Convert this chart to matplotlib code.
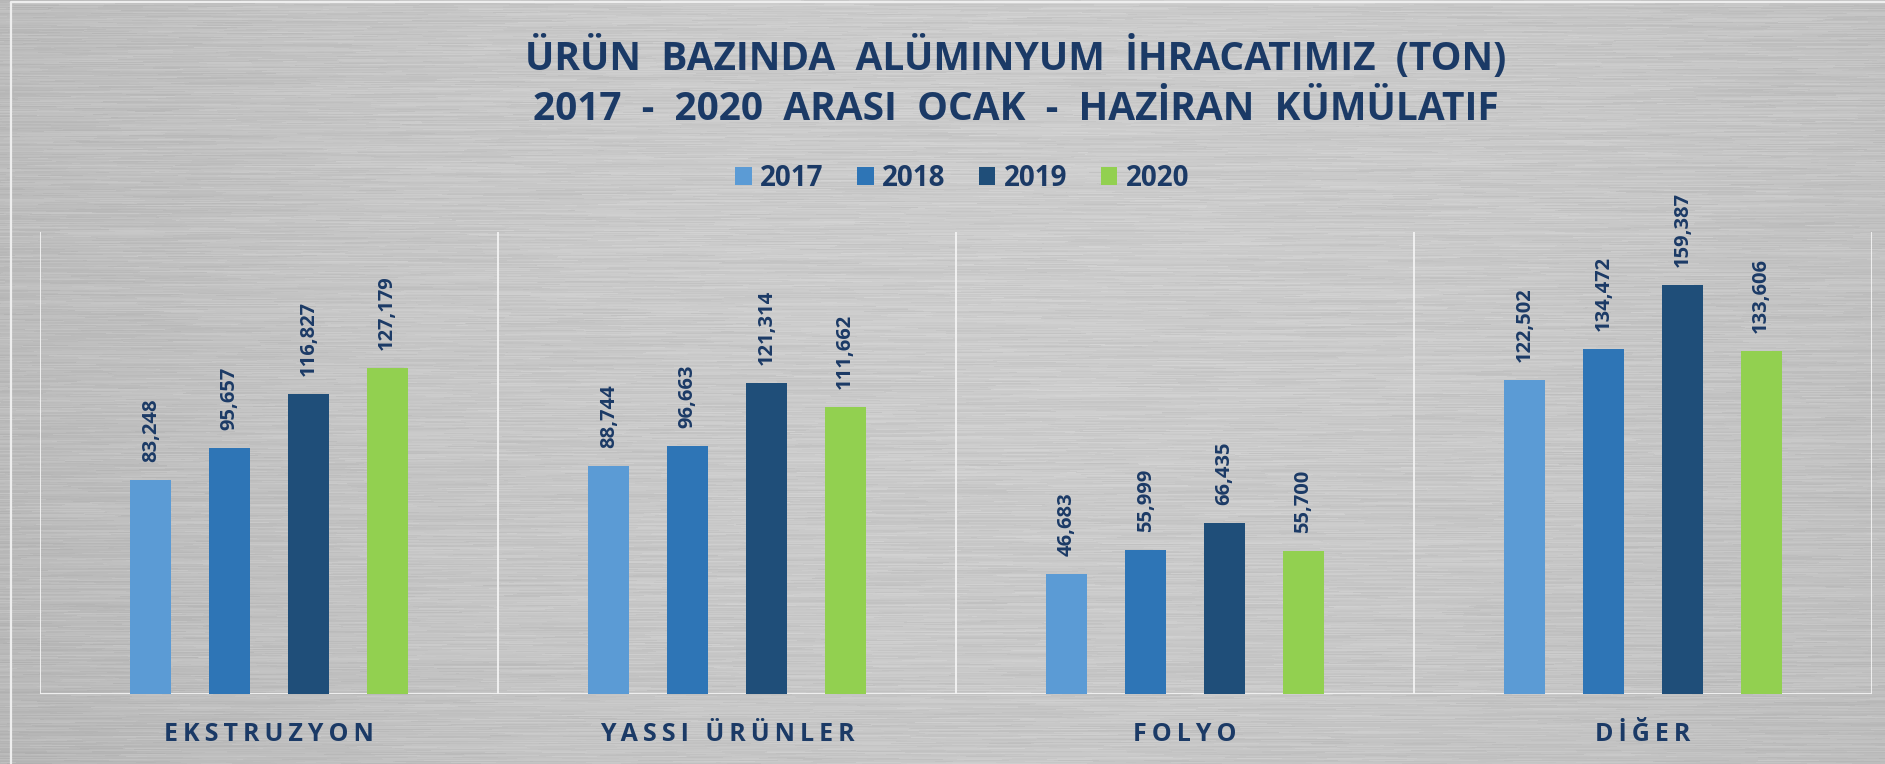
import numpy as np
import matplotlib
matplotlib.use("Agg")
import matplotlib.pyplot as plt

# ---- data ----
categories = ["EKSTRUZYON", "YASSI ÜRÜNLER", "FOLYO", "DİĞER"]
years = ["2017", "2018", "2019", "2020"]
v2017 = [83248, 88744, 46683, 122502]
v2018 = [95657, 96663, 55999, 134472]
v2019 = [116827, 121314, 66435, 159387]
v2020 = [127179, 111662, 55700, 133606]
series = [v2017, v2018, v2019, v2020]
colors = ["#5b9bd5", "#2e75b6", "#1f4e79", "#92d050"]
title1 = "ÜRÜN BAZINDA ALÜMINYUM İHRACATIMIZ (TON)"
title2 = "2017 - 2020 ARASI OCAK - HAZİRAN KÜMÜLATIF"

NAVY = "#1b3a66"
FONT = ["Open Sans", "DejaVu Sans"]
plt.rcParams["font.family"] = FONT

W, H = 1885, 764
fig = plt.figure(figsize=(W / 100, H / 100), dpi=100)

# ---- brushed metal background (decorative texture only) ----
bg = fig.add_axes([0, 0, 1, 1], zorder=0)
rows = np.arange(H)[:, None].astype(float)
cols = np.arange(W)[None, :].astype(float)

def hash01(a, b):
    v = np.sin(a * 12.9898 + b * 78.233) * 43758.5453
    return v - np.floor(v)

seg1 = np.floor(cols / 140 + hash01(rows, 1.0) * 7)
seg2 = np.floor(cols / 45 + hash01(rows, 2.0) * 5)
streak = (0.045 * (hash01(rows, seg1) - 0.5)
          + 0.03 * (hash01(rows + 0.5, seg2) - 0.5))
xn = (cols - W * 0.55) / (W / 2)
yn = (rows - H * 0.3) / H
base = 0.80 - 0.05 * xn ** 2 - 0.04 * yn ** 2
img = np.clip(base + streak, 0, 1)
bg.imshow(np.dstack([img, img, img]), aspect="auto", extent=[0, W, H, 0],
          interpolation="bilinear")
bg.plot([11, 11, W], [H, 2, 2], color="#eeeeee", lw=1.6)
bg.set_xlim(0, W)
bg.set_ylim(H, 0)
bg.axis("off")

# ---- chart axes ----
left, right, top, bottom = 40, 1872, 232, 694
ax = fig.add_axes([left / W, 1 - bottom / H, (right - left) / W, (bottom - top) / H], zorder=1)
ax.patch.set_alpha(0)
n = len(categories)
x = np.arange(n)
step = 0.172
bw = 0.09
for i, (vals, c) in enumerate(zip(series, colors)):
    xs = x + (i - 1.5) * step
    ax.bar(xs, vals, width=bw, color=c, zorder=3, label=years[i])
    for xi, v in zip(xs, vals):
        ax.annotate(f"{v:,}", (xi, v), xytext=(0, 13), textcoords="offset points",
                    rotation=90, ha="center", va="bottom", fontsize=14.5,
                    fontweight="bold", color=NAVY, zorder=4)

ax.set_xlim(-0.5, n - 0.5)
ax.set_ylim(0, 180000)
for s in ax.spines.values():
    s.set_visible(False)
ax.set_yticks([])
ax.set_xticks([])
for b in np.arange(-0.5, n, 1.0):
    ax.axvline(b, color="#f4f4f4", lw=1.3, zorder=2)
ax.axhline(0, color="#f4f4f4", lw=2, zorder=2)

def spaced(s, sp="\u2009"):
    return sp.join(s)

for xi, cat in zip(x, categories):
    ax.text(xi, -0.088, spaced(cat), transform=ax.get_xaxis_transform(),
            ha="center", va="center", fontsize=18, fontweight="bold", color=NAVY)

# ---- title ----
tx = 1016 / W
fig.text(tx, 1 - 57 / H, title1.replace(" ", "  "), ha="center", va="center",
         fontsize=28, fontweight="bold", color=NAVY)
fig.text(tx, 1 - 109 / H, title2.replace(" ", "  "), ha="center", va="center",
         fontsize=28, fontweight="bold", color=NAVY)

# ---- legend ----
leg = fig.legend(*ax.get_legend_handles_labels(), loc="center", ncol=4,
                 bbox_to_anchor=(962 / W, 1 - 178 / H), frameon=False,
                 prop={"size": 20, "weight": "bold", "family": FONT},
                 handlelength=0.6, handleheight=0.6, handletextpad=0.3,
                 columnspacing=1.2)
for t in leg.get_texts():
    t.set_color(NAVY)

fig.savefig("out.png", dpi=100)
